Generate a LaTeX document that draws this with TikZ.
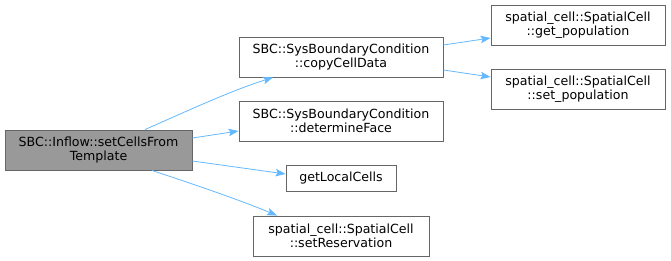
\documentclass[tikz,border=0pt]{standalone}
\usepackage{fontspec}
\setmainfont{DejaVu Sans}
\usetikzlibrary{arrows.meta}
\definecolor{edgeblue}{HTML}{63B8FF}
\definecolor{boxline}{HTML}{666666}
\definecolor{mainfill}{HTML}{999999}
\begin{document}
\begin{tikzpicture}[x=1pt,y=-1pt,
  fn/.style={draw=boxline,line width=0.9pt,fill=white,inner sep=0pt,align=center,font=\fontsize{12.6}{14}\selectfont},
  call/.style={draw=edgeblue,line width=0.8pt,-{Stealth[length=10pt,width=7.5pt,inset=2pt]}}]
\useasboundingbox (0,0) rectangle (671,261);
\node[fn,fill=mainfill,minimum width=187pt,minimum height=40pt] (main) at (98.5,150) {SBC::Inflow::setCellsFrom\\Template};
\node[fn,minimum width=204pt,minimum height=40pt] (copy) at (341,57) {SBC::SysBoundaryCondition\\::copyCellData};
\node[fn,minimum width=204pt,minimum height=40pt] (det) at (341,121) {SBC::SysBoundaryCondition\\::determineFace};
\node[fn,minimum width=174pt,minimum height=40pt] (getpop) at (578,25) {spatial\_cell::SpatialCell\\::get\_population};
\node[fn,minimum width=174pt,minimum height=40pt] (setpop) at (578,89) {spatial\_cell::SpatialCell\\::set\_population};
\node[fn,minimum width=110pt,minimum height=26pt] (local) at (341,178) {getLocalCells};
\node[fn,minimum width=176pt,minimum height=40pt] (res) at (341,236) {spatial\_cell::SpatialCell\\::setReservation};
\draw[call] ([xshift=46.5pt]main.north) .. controls (185,112) and (230,91) .. ([xshift=-68pt]copy.south);
\draw[call] ([yshift=12pt]main.east) -- ([yshift=-10pt]det.west);
\draw[call] ([yshift=-11pt]main.east) -- ([yshift=4pt]local.west);
\draw[call] ([xshift=53.5pt]main.south) .. controls (190,183) and (240,200) .. ([xshift=-64pt]res.north);
\draw[call] ([yshift=12pt]copy.east) -- ([yshift=-13pt]getpop.west);
\draw[call] ([yshift=-13pt]copy.east) -- ([yshift=12pt]setpop.west);
\end{tikzpicture}
\end{document}
